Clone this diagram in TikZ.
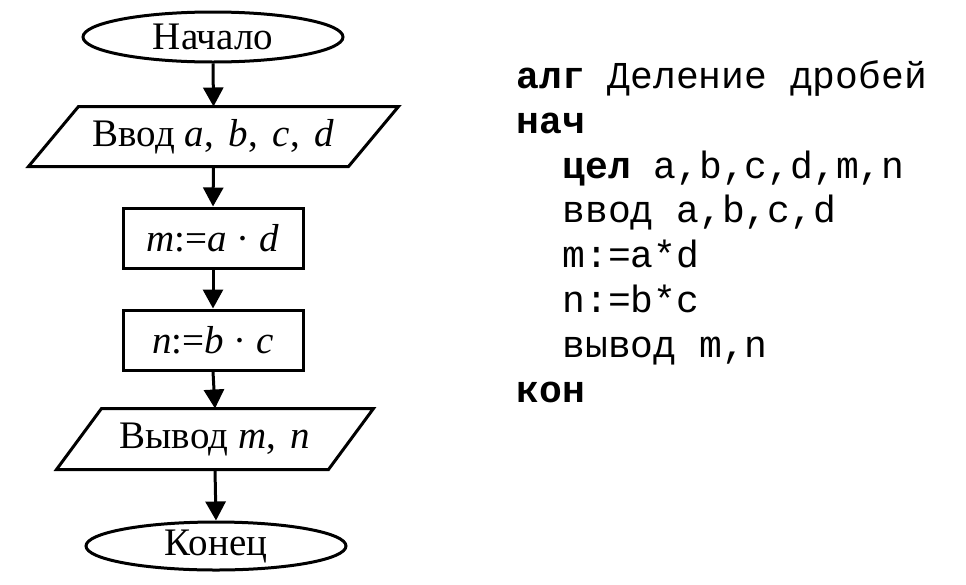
\documentclass[tikz,border=0pt]{standalone}
\usepackage{fontspec}
\setmainfont{Liberation Serif}
\newfontfamily\codefont{Liberation Mono}
\usetikzlibrary{shapes.geometric,arrows.meta}
\newcommand{\gapsp}{\hspace{5pt}}
\begin{document}
\begin{tikzpicture}[x=1pt,y=-1pt,line width=3pt,
  lbl/.style={font=\fontsize{39}{42}\selectfont},
  term/.style={lbl,ellipse,draw,minimum width=260pt,minimum height=50pt,inner sep=0pt},
  procbox/.style={lbl,rectangle,draw,minimum width=180pt,minimum height=60pt,inner sep=0pt},
  iobox/.style={lbl,rectangle,inner sep=0pt},
  flow/.style={-{Triangle[length=19pt,width=20pt]}},
  code/.style={font=\fontsize{38}{40}\selectfont\codefont,anchor=base west,inner sep=0pt}]
\useasboundingbox (0,0) rectangle (966,584);
% flowchart
\node[term] (start) at (213,37) {Начало};
\node[iobox,minimum width=367pt,minimum height=57pt] (in) at (213.5,136.5) {Ввод \textit{a},\gapsp{} \textit{b},\gapsp{} \textit{c},\gapsp{} \textit{d}};
\draw ([xshift=50pt]in.north west) -- (in.north east) -- ([xshift=-50pt]in.south east) -- (in.south west) -- cycle;
\node[procbox] (m) at (213,238) {\textit{m}:=\textit{a} · \textit{d}};
\node[procbox] (n) at (213,340) {\textit{n}:=\textit{b} · \textit{c}};
\node[iobox,minimum width=314pt,minimum height=58pt] (out) at (215,439) {Вывод \textit{m},\gapsp{} \textit{n}};
\draw ([xshift=45pt]out.north west) -- (out.north east) -- ([xshift=-45pt]out.south east) -- (out.south west) -- cycle;
\node[term,minimum height=48pt] (stop) at (216,546) {Конец};
\draw[flow] (start.south) -- (in.north);
\draw[flow] (in.south) -- (m.north);
\draw[flow] (m.south) -- (n.north);
\draw[flow] (n.south) -- (out.north);
\draw[flow] (out.south) -- (stop.north);
% algorithm text
\node[code] (l1) at (515,88) {\textbf{алг} Деление дробей};
\node[code] (l2) at (515,133) {\textbf{нач}};
\node[code] (l3) at (561,178) {\textbf{цел} a,b,c,d,m,n};
\node[code] (l4) at (561,222) {ввод a,b,c,d};
\node[code] (l5) at (561,267) {m:=a*d};
\node[code] (l6) at (561,312) {n:=b*c};
\node[code] (l7) at (561,357) {вывод m,n};
\node[code] (l8) at (515,402) {\textbf{кон}};
\end{tikzpicture}
\end{document}
